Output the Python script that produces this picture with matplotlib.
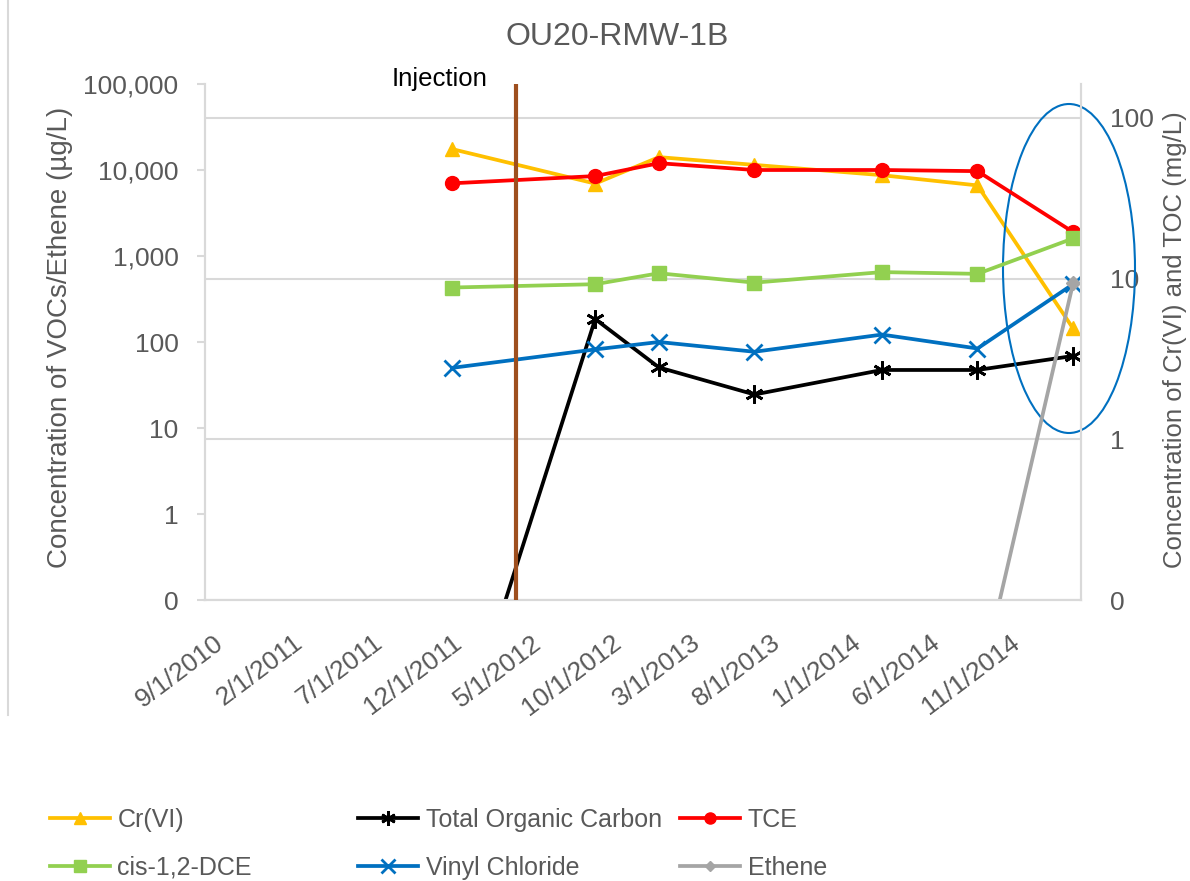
import matplotlib
matplotlib.use("Agg")
import matplotlib.pyplot as plt
from matplotlib.patches import Ellipse
from matplotlib.lines import Line2D
from matplotlib.ticker import FixedLocator, FixedFormatter, NullLocator
from datetime import datetime

plt.rcParams['font.family'] = ['Liberation Sans', 'DejaVu Sans']

# sample dates (Excel date axis with month base unit)
sample_dates = ["2011-12-01", "2012-09-01", "2013-01-01", "2013-07-01",
                "2014-03-01", "2014-09-01", "2015-03-01"]
injection_date = "2012-04-01"

# right axis (mg/L)
cr6 = [64, 39, 57, 51, 44, 38, 4.9]
toc = [0.009, 5.6, 2.8, 1.9, 2.7, 2.7, 3.3]
# left axis (ug/L)
tce = [7000, 8500, 12000, 10000, 10000, 9700, 1900]
dce = [430, 470, 630, 490, 650, 620, 1600]
vc = [50, 82, 100, 77, 122, 84, 470]
ethene_dates = ["2014-09-01", "2015-03-01"]
ethene = [0.0076, 480]

x_tick_labels = ["9/1/2010", "2/1/2011", "7/1/2011", "12/1/2011", "5/1/2012",
                 "10/1/2012", "3/1/2013", "8/1/2013", "1/1/2014", "6/1/2014",
                 "11/1/2014"]
left_ticks = [0.1, 1, 10, 100, 1000, 10000, 100000]
left_tick_labels = ["0", "1", "10", "100", "1,000", "10,000", "100,000"]
right_ticks = [0.1, 1, 10, 100]
right_tick_labels = ["0", "1", "10", "100"]

grey_txt = "#595959"
grid_c = "#D9D9D9"


def month_no(d):
    # months since the first axis date, as Excel does with a month base unit
    return (d.year - 2010) * 12 + d.month - 9


dates = [month_no(datetime.strptime(d, "%Y-%m-%d")) for d in sample_dates]
eth_dates = [month_no(datetime.strptime(d, "%Y-%m-%d")) for d in ethene_dates]
inj = month_no(datetime.strptime(injection_date, "%Y-%m-%d"))
tick_pos = [month_no(datetime.strptime(t, "%m/%d/%Y")) for t in x_tick_labels]

fig = plt.figure(figsize=(11.9, 8.81), dpi=100)
ax2 = fig.add_axes([205 / 1190, 1 - 600 / 881, 876 / 1190, 516 / 881])
ax = ax2.twinx()
ax.yaxis.tick_left()
ax.yaxis.set_label_position("left")
ax2.yaxis.tick_right()
ax2.yaxis.set_label_position("right")
ax.set_zorder(ax2.get_zorder() + 1)
ax.patch.set_visible(False)

lw = 2.7
h_cr, = ax2.plot(dates, cr6, color="#FFC000", lw=lw, marker="^", ms=10, label="Cr(VI)")
h_toc, = ax2.plot(dates, toc, color="black", lw=lw, marker=(6, 2, 0), ms=13, mew=2,
                  label="Total Organic Carbon")
h_tce, = ax.plot(dates, tce, color="#FF0000", lw=lw, marker="o", ms=10, label="TCE")
h_dce, = ax.plot(dates, dce, color="#92D050", lw=lw, marker="s", ms=10, label="cis-1,2-DCE")
h_vc, = ax.plot(dates, vc, color="#0070C0", lw=lw, marker="x", ms=12, mew=2, label="Vinyl Chloride")
h_eth, = ax.plot(eth_dates, ethene, color="#A5A5A5", lw=lw, marker="D", ms=7, label="Ethene")

ax.axvline(inj, color="#9E4F1E", lw=3, zorder=10)

ax.set_yscale("log")
ax2.set_yscale("log")
ax.set_ylim(0.1, 100000)
ax2.set_ylim(0.1, 162.5)
ax.set_xlim(tick_pos[0] - 0.5, dates[-1] + 0.5)

ax.yaxis.set_major_locator(FixedLocator(left_ticks))
ax.yaxis.set_major_formatter(FixedFormatter(left_tick_labels))
ax.yaxis.set_minor_locator(NullLocator())
ax2.yaxis.set_major_locator(FixedLocator(right_ticks))
ax2.yaxis.set_major_formatter(FixedFormatter(right_tick_labels))
ax2.yaxis.set_minor_locator(NullLocator())

ax2.xaxis.set_major_locator(FixedLocator(tick_pos))
ax2.xaxis.set_major_formatter(FixedFormatter(x_tick_labels))
ax2.xaxis.set_minor_locator(NullLocator())
for lab in ax2.get_xticklabels():
    lab.set_rotation(37)
    lab.set_ha("right")
    lab.set_va("top")
    lab.set_rotation_mode("anchor")
ax2.tick_params(axis="x", length=0, pad=22, labelsize=19, labelcolor=grey_txt)
ax.tick_params(axis="x", length=0, labelbottom=False)

ax.tick_params(axis="y", length=6, width=1.5, color=grid_c, pad=13, labelsize=19,
               labelcolor=grey_txt)
ax2.tick_params(axis="y", length=0, pad=21, labelsize=19, labelcolor=grey_txt)

ax2.grid(True, axis="y", color=grid_c, lw=1.5)
ax2.grid(False, axis="x")
ax.grid(False)

for a in (ax, ax2):
    a.spines["top"].set_visible(False)
    for s in ("left", "right", "bottom"):
        a.spines[s].set_color(grid_c)
        a.spines[s].set_linewidth(1.5)

# label coords: right edge of the left label, left edge of the right label
ax.set_ylabel("Concentration of VOCs/Ethene (µg/L)", fontsize=20, color=grey_txt)
ax.yaxis.set_label_coords((73 - 205) / 876, 0.508)
ax2.set_ylabel("Concentration of Cr(VI) and TOC (mg/L)", fontsize=18.5, color=grey_txt)
ax2.yaxis.set_label_coords((1163 - 205) / 876, 0.504)

fig.text(617 / 1190, 1 - 37 / 881, "OU20-RMW-1B", fontsize=23, color=grey_txt,
         ha="center", va="center")
fig.text(440 / 1190, 1 - 79 / 881, "Injection", fontsize=18.5, color="black",
         ha="center", va="center")

ell = Ellipse((1069 / 1190, 1 - 268.5 / 881), 132 / 1190, 329 / 881,
              transform=fig.transFigure, fill=False, edgecolor="#0070C0", lw=1.5)
fig.add_artist(ell)

# chart border on the left
fig.add_artist(Line2D([8 / 1190, 8 / 1190], [1, 1 - 715 / 881],
                      transform=fig.transFigure, color=grid_c, lw=1.5))

leg_font = {"size": 18}
columns = [([h_cr, h_dce], 50), ([h_toc, h_vc], 358), ([h_tce, h_eth], 680)]
for handles, xpix in columns:
    leg = fig.legend(handles=handles, loc="upper left",
                     bbox_to_anchor=(xpix / 1190, 1 - 808 / 881),
                     frameon=False, prop=leg_font, handlelength=2.4,
                     handletextpad=0.3, labelspacing=0.95, borderpad=0,
                     borderaxespad=0, markerscale=0.8)
    for t in leg.get_texts():
        t.set_color(grey_txt)

fig.savefig("out.png", dpi=100)
